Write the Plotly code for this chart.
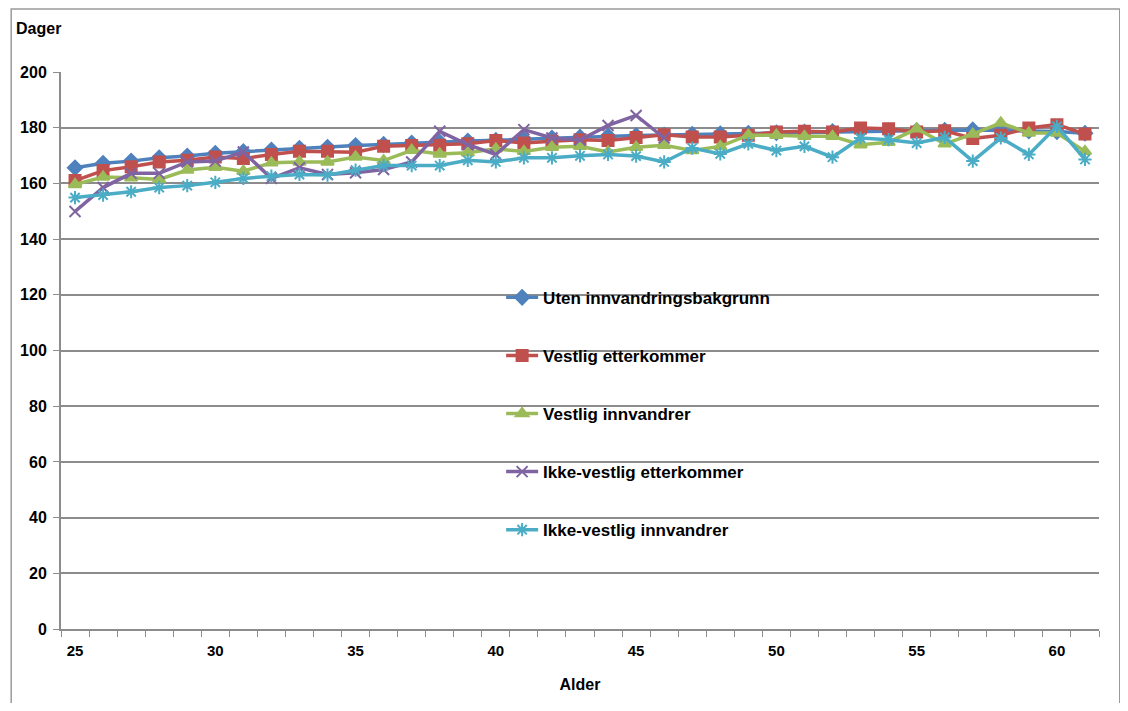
import plotly.graph_objects as go

alder = list(range(25, 62))

uten = [165.6, 167.2, 168.0, 169.2, 169.8, 170.8, 171.4, 172.0, 172.6, 173.0,
        173.6, 174.0, 174.5, 174.8, 175.2, 175.5, 175.9, 176.3, 176.6, 177.0,
        177.2, 177.4, 177.6, 177.8, 178.0, 178.2, 178.4, 178.6, 178.8, 178.9,
        179.0, 179.1, 179.2, 179.0, 178.8, 178.6, 178.0]
vestlig_etterk = [161.0, 164.6, 166.0, 167.7, 168.3, 169.5, 168.9, 170.4, 171.5, 171.5,
                  171.2, 173.3, 173.6, 173.7, 174.2, 175.4, 174.5, 175.1, 175.7, 175.4,
                  176.5, 177.5, 176.7, 176.7, 177.3, 178.5, 178.7, 178.5, 179.9, 179.6,
                  178.5, 178.9, 176.1, 177.3, 179.9, 181.1, 177.7]
vestlig_innv = [159.6, 162.3, 162.0, 161.4, 164.8, 165.8, 164.4, 167.4, 167.7, 167.7,
                169.5, 168.2, 171.9, 170.6, 171.0, 172.4, 171.5, 173.0, 173.3, 171.3,
                173.0, 173.7, 171.8, 173.3, 177.3, 177.3, 176.9, 176.9, 173.9, 174.8,
                179.6, 174.2, 177.7, 181.7, 178.1, 178.1, 171.5]
ikkevest_etterk = [149.9, 158.5, 163.6, 163.6, 167.7, 168.0, 171.3, 161.8, 165.6, 163.2,
                   163.8, 165.0, 167.7, 178.7, 173.9, 170.4, 179.3, 176.3, 175.6, 180.8,
                   184.4, 176.3]
ikkevest_innv = [154.9, 155.8, 157.0, 158.5, 159.2, 160.4, 161.8, 162.6, 163.2, 163.0,
                 164.8, 166.4, 166.4, 166.4, 168.3, 167.7, 169.2, 169.2, 169.9, 170.4,
                 169.8, 167.7, 172.7, 170.6, 174.2, 171.8, 173.3, 169.4, 176.3, 175.7,
                 174.5, 176.5, 168.0, 176.3, 170.4, 180.5, 168.6]

serier = [
    ("Uten innvandringsbakgrunn", uten, "#4F81BD", "diamond"),
    ("Vestlig etterkommer", vestlig_etterk, "#C0504D", "square"),
    ("Vestlig innvandrer", vestlig_innv, "#9BBB59", "triangle-up"),
    ("Ikke-vestlig etterkommer", ikkevest_etterk, "#8064A2", "x-thin-open"),
    ("Ikke-vestlig innvandrer", ikkevest_innv, "#4BACC6", "asterisk-open"),
]

font = dict(family="Liberation Sans, Arial, sans-serif", color="black", weight="bold")
grid = "#8c8c8c"

fig = go.Figure()
for i, (navn, verdier, farge, symbol) in enumerate(serier):
    fig.add_trace(go.Scatter(
        x=alder[:len(verdier)], y=verdier, name=navn, mode="lines+markers",
        legendgroup=str(i),
        line=dict(color=farge, width=3.5),
        marker=dict(symbol=symbol, size=11, color=farge,
                    line=dict(color=farge, width=2))
    ))

# siden har 8px marg i nettleseren, derfor litt mindre figur
fig.update_layout(
    width=1112, height=695,
    paper_bgcolor="white", plot_bgcolor="white",
    margin=dict(l=51, r=21, t=64, b=72),
    font=dict(**font, size=15),
    showlegend=True,
    legend=dict(x=0.424, y=0.627, xanchor="left", yanchor="top",
                bgcolor="rgba(0,0,0,0)", tracegroupgap=33, itemwidth=32,
                font=dict(**font, size=17)),
    shapes=[
        dict(type="rect", xref="paper", yref="paper", x0=0.333, x1=0.78,
             y0=0.154, y1=0.637, fillcolor="white", line=dict(width=0),
             layer="between"),
        dict(type="rect", xref="paper", yref="paper", x0=-0.048, x1=1.02,
             y0=-0.3, y1=1.113, line=dict(color="#9a9a9a", width=1.5)),
    ],
    annotations=[
        dict(text="Dager", xref="paper", yref="paper", x=-0.045, y=1.078,
             xanchor="left", yanchor="middle", showarrow=False,
             font=dict(**font, size=16)),
    ],
)

fig.update_xaxes(
    range=[24.5, 61.5], tickvals=[25, 30, 35, 40, 45, 50, 55, 60],
    ticks="", showgrid=False, showline=True, linecolor=grid, linewidth=2,
    tickfont=dict(**font, size=15), ticklabelstandoff=7,
    minor=dict(ticks="outside", tick0=24.5, dtick=1, ticklen=6,
               tickcolor=grid, showgrid=False),
    title=dict(text="Alder", font=dict(**font, size=16), standoff=21),
)
fig.update_yaxes(
    range=[0, 200], dtick=20, showgrid=True, gridcolor=grid, gridwidth=2,
    showline=True, linecolor=grid, linewidth=2, ticks="outside", ticklen=6,
    tickcolor=grid, tickfont=dict(**font, size=16), zeroline=False,
    ticklabelstandoff=3,
)

fig.write_html("out.html")
